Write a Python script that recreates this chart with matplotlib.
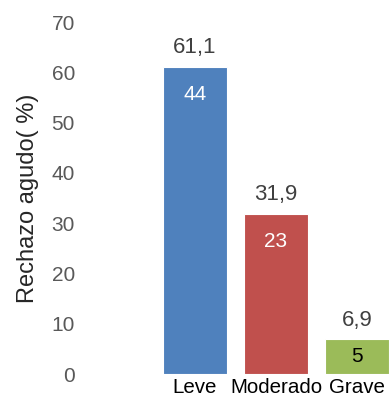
import matplotlib
matplotlib.use("Agg")
from matplotlib import pyplot as plt

categories = ["Leve", "Moderado", "Grave"]
percent = [61.1, 31.9, 6.9]
percent_labels = ["61,1", "31,9", "6,9"]
counts = [44, 23, 5]
colors = ["#4F81BD", "#C0504D", "#9BBB59"]
count_colors = ["white", "white", "black"]

plt.rcParams['font.family'] = ['Liberation Sans', 'DejaVu Sans']

fig = plt.figure(figsize=(3.89, 3.97), dpi=100)
ax = fig.add_axes([150 / 389, 23 / 397, 239 / 389, 352 / 397])

x = range(len(categories))
bars = ax.bar(x, percent, width=0.79, color=colors, edgecolor="white", linewidth=0.8)

for i, b in enumerate(bars):
    top = b.get_height()
    ax.annotate(percent_labels[i], (i, top), xytext=(0, 6), textcoords="offset points",
                ha="center", va="bottom", fontsize=16, color="#404040", annotation_clip=False)
    if top > 15:
        ax.annotate(str(counts[i]), (i, top), xytext=(0, -20), textcoords="offset points",
                    ha="center", va="center", fontsize=15, color=count_colors[i])
    else:
        ax.text(i, top / 2, str(counts[i]), ha="center", va="center",
                fontsize=15, color=count_colors[i])

ax.set_xlim(-0.556, 2.395)
ax.set_ylim(0, 70)
ax.set_yticks(range(0, 71, 10))
ax.set_xticks(list(x))
ax.set_xticklabels(categories, fontsize=14.8, color="black")
ax.tick_params(axis="y", length=0, pad=54, labelsize=15, labelcolor="#595959")
ax.tick_params(axis="x", length=0, pad=3)
for s in ax.spines.values():
    s.set_visible(False)

fig.text(28 / 389, 1 - 198 / 397, "Rechazo agudo( %)", rotation=90, ha="center", va="center",
         fontsize=17, color="#262626")

plt.savefig("out.png", dpi=100)
